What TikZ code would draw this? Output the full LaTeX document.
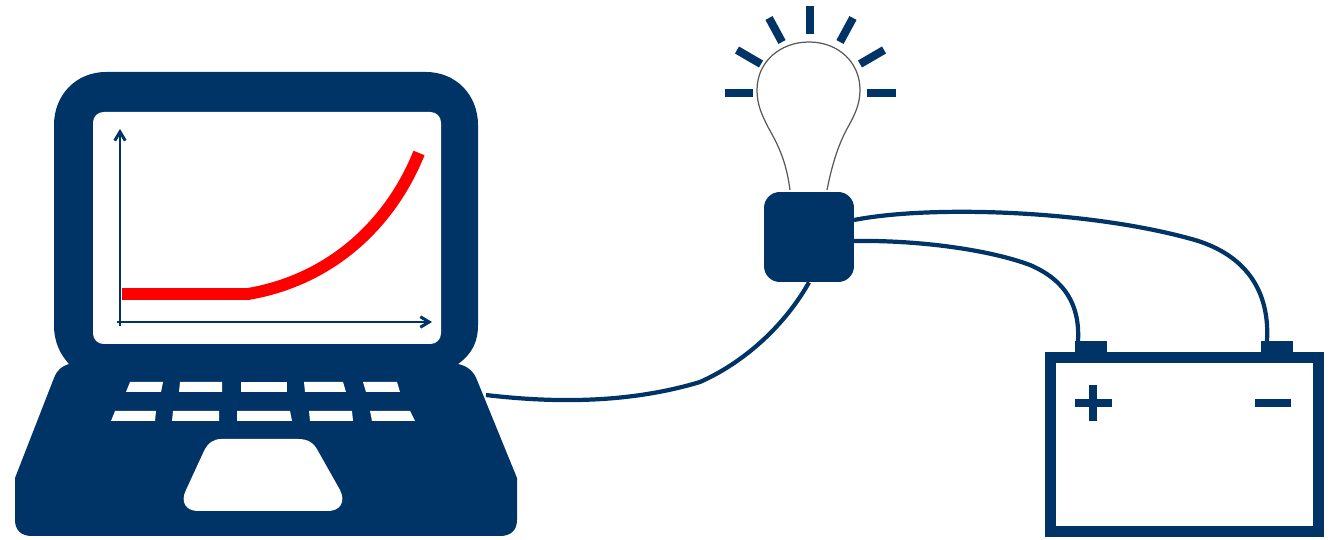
\documentclass[tikz,border=0pt]{standalone}
\usepackage{xcolor}
\usepackage{tikz}
\usetikzlibrary{arrows.meta,positioning,calc}
\definecolor{navy}{RGB}{0,51,102}

\begin{document}
\begin{tikzpicture}[x=0.02cm, y=-0.02cm, >={Straight Barb[length=5pt,width=6pt]},
  solid navy/.style={fill=navy, draw=none},
  hole/.style={fill=white, draw=none},
  ray/.style={draw=navy, line width=4.6pt},
  wire/.style={draw=navy, line width=2.4pt},
  axis/.style={->, draw=navy, line width=1.7pt},
  ctrlbox/.style={fill=navy, rounded corners=9pt, minimum width=1.8cm, minimum height=1.8cm, inner sep=0pt},
  terminal/.style={fill=navy, minimum width=0.64cm, minimum height=0.24cm, inner sep=0pt}]

\useasboundingbox (0,0) rectangle (1336,540);

% laptop lid and base
\fill[solid navy] (54,125) .. controls (54,95) and (76,72) .. (106,72) -- (426,72)
  .. controls (456,72) and (478,95) .. (478,125) -- (478,325) .. controls (478,342) and (472,354) .. (458,364)
  .. controls (468,366) and (474,372) .. (477,380) -- (517,478) -- (517,520)
  .. controls (517,530) and (511,536) .. (500,536) -- (32,536) .. controls (21,536) and (15,530) .. (15,520)
  -- (15,478) -- (54,378) .. controls (57,370) and (62,366) .. (69,364)
  .. controls (60,354) and (54,342) .. (54,325) -- cycle;
\fill[hole, rounded corners=6pt] (93,112) rectangle (441,344);

% keys
\foreach \xa/\xb/\xc/\xd in {130/163/161/126, 180/222/222/179, 241/287/287/241, 304/343/346/305, 363/397/400/366}
  \fill[hole] (\xa,382) -- (\xb,382) -- (\xc,392) -- (\xd,392) -- cycle;
\foreach \xa/\xb/\xc/\xd in {115/156/155/111, 173/219/219/172, 237/290/292/237, 309/352/353/310, 370/410/415/372}
  \fill[hole] (\xa,411) -- (\xb,411) -- (\xc,421) -- (\xd,421) -- cycle;

% touchpad
\fill[hole] (222,439) -- (298,439) .. controls (308,439) and (314,443) .. (318,451) -- (340,490)
  .. controls (346,502) and (340,511) .. (328,511) -- (198,511)
  .. controls (186,511) and (180,502) .. (186,490) -- (204,451) .. controls (208,443) and (213,439) .. (222,439) -- cycle;

% chart
\draw[axis] (120,326) -- (120,129);
\draw[axis] (117,322) -- (432,322);
\draw[red, line width=6.8pt] (122,294) -- (248,294) .. controls (330,280) and (390,225) .. (419,153);

% bulb
\draw[draw=gray!70!black, line width=0.7pt, fill=white] (790,190) .. controls (786,160) and (778,145) .. (768,127)
  .. controls (762,115) and (757,105) .. (757,90) .. controls (757,62) and (780,42) .. (809,42)
  .. controls (838,42) and (860,62) .. (860,90) .. controls (860,105) and (854,116) .. (848,127)
  .. controls (838,145) and (832,165) .. (827,190);
\foreach \xa/\ya/\xb/\yb in {725/93/753/93, 867/93/896/93, 810/6/810/34, 769/18/782/42, 853/18/840/42, 737/50/761/64, 884/50/860/64}
  \draw[ray] (\xa,\ya) -- (\xb,\yb);

% box, terminals and wires
\node[ctrlbox] (ctrl) at (809,237) {};
\node[terminal] (plus) at (1091,347) {};
\node[terminal] (minus) at (1277,347) {};
\coordinate (port) at (486,395);
\coordinate (ctrlA) at (854,220);
\coordinate (ctrlB) at (854,241);

\draw[wire] (port) .. controls (570,405) and (640,400) .. (700,382) .. controls (745,362) and (785,325) .. (ctrl.south);
\draw[wire] (ctrlA) .. controls (930,205) and (1090,210) .. (1195,240) .. controls (1245,255) and (1270,290) .. (1267,341);
\draw[wire] (ctrlB) .. controls (920,240) and (990,250) .. (1030,265) .. controls (1065,280) and (1080,305) .. (1078,341);

% battery
\draw[navy, line width=6.2pt] (1050.5,357.5) rectangle (1318.5,531.5);
\draw[navy, line width=4.2pt] (1075,403) -- (1112,403) (1093,385) -- (1093,421);
\draw[navy, line width=4.2pt] (1255,403) -- (1291,403);
\end{tikzpicture}
\end{document}
